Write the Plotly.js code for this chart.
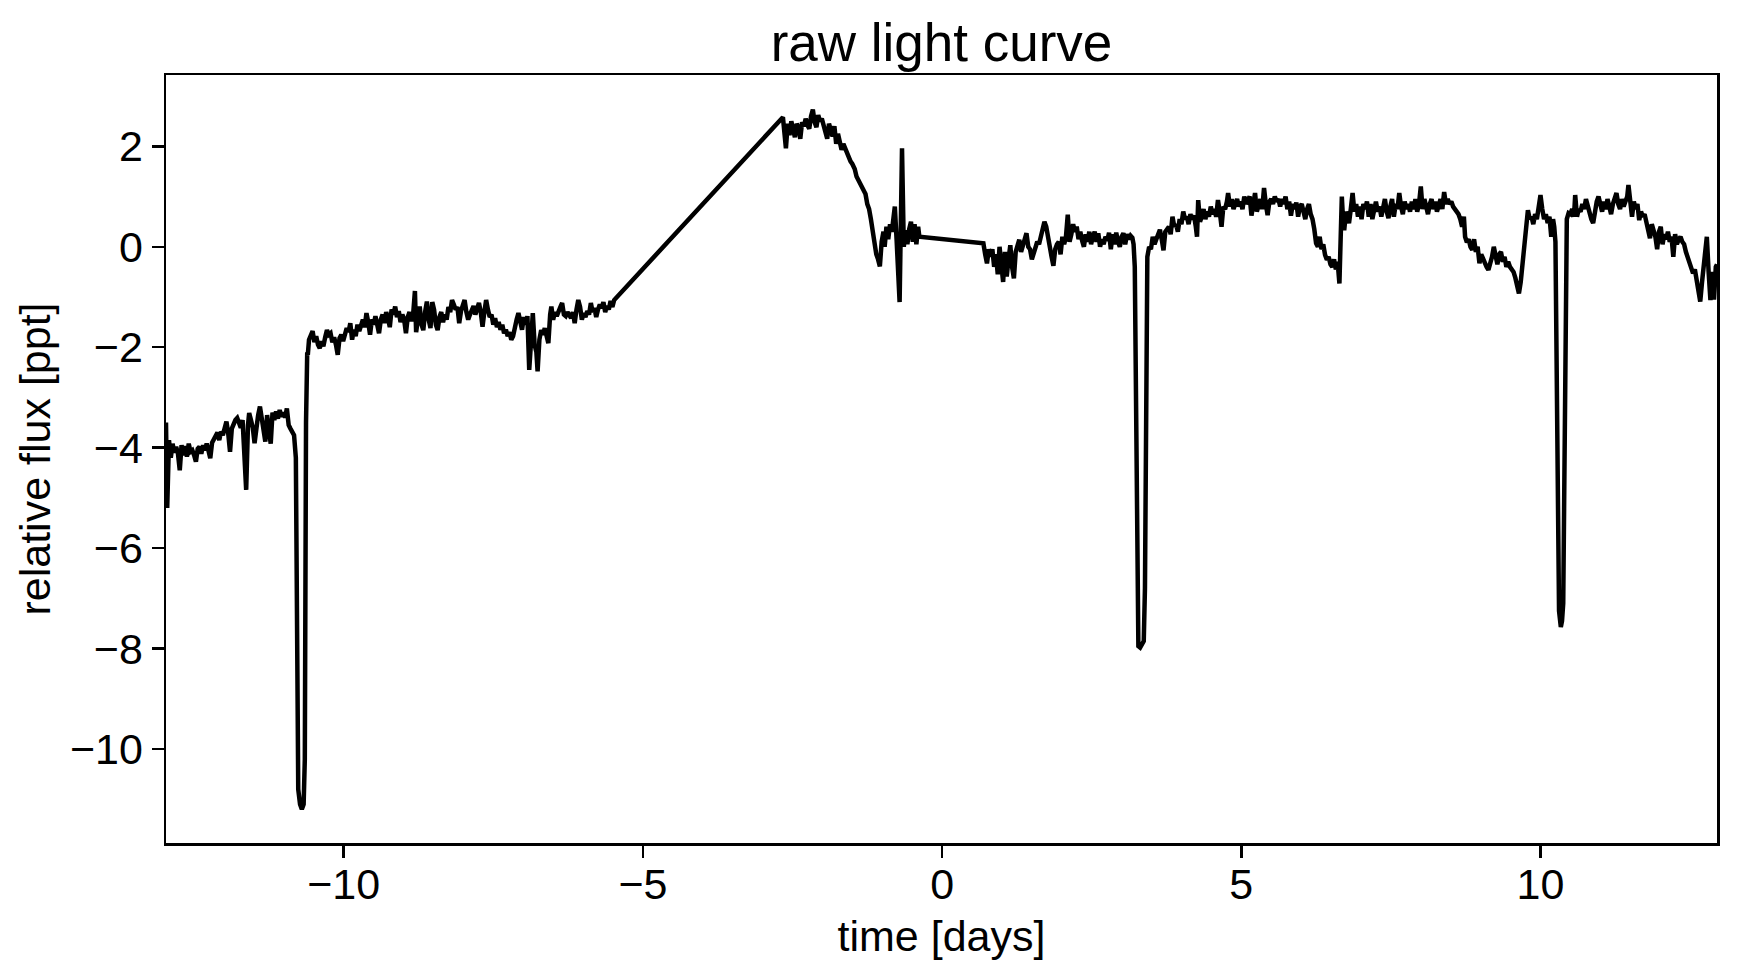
<!DOCTYPE html>
<html>
<head>
<meta charset="utf-8">
<script src="https://cdn.plot.ly/plotly-3.0.1.min.js"></script>
<style>html,body{margin:0;padding:0;background:#fff;}#chart{width:1740px;height:978px;}</style>
</head>
<body>
<div id="chart"></div>
<script>
// [time (days), relative flux (ppt)], in time order
const segBeforeGap1 = [
[-12.97,-3.50],[-12.95,-5.20],[-12.92,-3.85],[-12.89,-4.20],[-12.86,-3.92],[-12.83,-4.10],[-12.80,-3.98],[-12.77,-4.12],
[-12.74,-4.45],[-12.71,-3.95],[-12.68,-4.15],[-12.65,-3.97],[-12.62,-4.18],[-12.59,-3.92],[-12.56,-4.08],[-12.53,-4.05],
[-12.50,-4.15],[-12.47,-4.28],[-12.44,-4.02],[-12.41,-3.98],[-12.38,-4.12],[-12.35,-3.95],[-12.32,-4.05],[-12.29,-3.92],
[-12.26,-4.06],[-12.23,-4.21],[-12.20,-3.90],[-12.17,-3.82],[-12.14,-3.78],[-12.11,-3.70],[-12.08,-3.85],[-12.05,-3.68],
[-12.02,-3.75],[-11.99,-3.62],[-11.96,-3.48],[-11.93,-3.72],[-11.90,-4.08],[-11.87,-3.62],[-11.84,-3.50],[-11.81,-3.45],
[-11.78,-3.41],[-11.75,-3.52],[-11.72,-3.60],[-11.69,-3.45],[-11.66,-4.20],[-11.63,-4.84],[-11.60,-3.55],[-11.58,-3.31],
[-11.55,-3.45],[-11.52,-3.60],[-11.49,-3.91],[-11.46,-3.55],[-11.43,-3.35],[-11.40,-3.18],[-11.37,-3.40],[-11.34,-3.62],
[-11.31,-3.88],[-11.28,-3.35],[-11.25,-3.62],[-11.22,-3.92],[-11.19,-3.30],[-11.16,-3.45],[-11.13,-3.28],[-11.10,-3.42],
[-11.07,-3.25],[-11.04,-3.38],[-11.01,-3.30],[-10.98,-3.40],[-10.95,-3.22],[-10.92,-3.55],[-10.89,-3.62],[-10.86,-3.68],
[-10.83,-3.75],[-10.80,-4.20],[-10.78,-8.50],[-10.76,-10.80],[-10.73,-11.10],[-10.70,-11.20],[-10.67,-11.10],[-10.65,-10.20],
[-10.63,-3.50],[-10.61,-2.10],
[-10.60,-2.15],[-10.58,-1.85],[-10.55,-1.75],[-10.52,-1.68],[-10.49,-1.90],[-10.46,-1.78],[-10.43,-1.95],[-10.40,-2.02],
[-10.37,-1.88],[-10.34,-1.98],[-10.31,-1.80],[-10.28,-1.66],[-10.25,-1.75],[-10.22,-1.72],[-10.19,-1.90],[-10.16,-1.80],
[-10.13,-1.95],[-10.10,-2.15],[-10.07,-1.82],[-10.04,-1.75],[-10.01,-1.88],[-9.98,-1.70],[-9.95,-1.62],[-9.92,-1.70],
[-9.89,-1.52],[-9.86,-1.85],[-9.83,-1.65],[-9.80,-1.78],[-9.77,-1.55],[-9.74,-1.68],[-9.71,-1.52],[-9.68,-1.45],
[-9.65,-1.60],[-9.62,-1.32],[-9.59,-1.50],[-9.56,-1.75],[-9.53,-1.45],[-9.50,-1.55],[-9.47,-1.38],[-9.44,-1.60],
[-9.41,-1.72],[-9.38,-1.45],[-9.35,-1.35],[-9.32,-1.52],[-9.29,-1.30],[-9.26,-1.42],[-9.23,-1.60],[-9.20,-1.25],
[-9.17,-1.35],[-9.14,-1.19],[-9.11,-1.40],[-9.08,-1.28],[-9.05,-1.50],[-9.02,-1.35],[-8.99,-1.45],[-8.96,-1.72],
[-8.93,-1.40],[-8.90,-1.30],[-8.87,-1.48],[-8.84,-1.35],[-8.81,-0.88],[-8.79,-1.70],[-8.76,-1.35],[-8.73,-1.19],
[-8.70,-1.55],[-8.67,-1.66],[-8.64,-1.30],[-8.61,-1.09],[-8.58,-1.45],[-8.55,-1.62],[-8.52,-1.10],[-8.49,-1.25],
[-8.46,-1.55],[-8.43,-1.66],[-8.40,-1.40],[-8.37,-1.30],[-8.34,-1.50],[-8.31,-1.35],[-8.28,-1.45],[-8.25,-1.20],
[-8.22,-1.30],[-8.19,-1.06],[-8.16,-1.15],[-8.13,-1.25],[-8.10,-1.20],[-8.07,-1.52],[-8.04,-1.28],[-8.01,-1.15],
[-7.98,-1.06],[-7.95,-1.30],[-7.92,-1.45],[-7.89,-1.35],[-7.86,-1.25],[-7.83,-1.18],[-7.80,-1.35],[-7.77,-1.25],
[-7.74,-1.12],[-7.71,-1.30],[-7.68,-1.59],[-7.65,-1.30],[-7.62,-1.06],[-7.59,-1.25],[-7.56,-1.40],[-7.53,-1.35],
[-7.50,-1.55],[-7.47,-1.42],[-7.44,-1.60],[-7.41,-1.50],[-7.38,-1.65],[-7.35,-1.55],[-7.32,-1.72],[-7.29,-1.65],
[-7.26,-1.78],[-7.23,-1.70],[-7.20,-1.85],[-7.17,-1.78],[-7.14,-1.55],[-7.11,-1.45],[-7.08,-1.32],[-7.05,-1.55],
[-7.02,-1.65],[-6.99,-1.40],[-6.96,-1.55],[-6.93,-1.38],[-6.90,-2.45],[-6.87,-1.90],[-6.84,-1.32],[-6.81,-1.95],
[-6.78,-2.10],[-6.76,-2.48],[-6.73,-1.85],[-6.70,-1.66],[-6.67,-1.75],[-6.64,-1.62],[-6.61,-1.80],[-6.58,-1.92],
[-6.55,-1.35],[-6.53,-1.19],[-6.50,-1.45],[-6.47,-1.30],[-6.44,-1.38],[-6.41,-1.25],[-6.38,-1.20],[-6.35,-1.12],
[-6.32,-1.35],[-6.29,-1.38],[-6.26,-1.30],[-6.23,-1.36],[-6.20,-1.42],[-6.17,-1.30],[-6.14,-1.52],[-6.11,-1.25],
[-6.08,-1.06],[-6.05,-1.20],[-6.02,-1.45],[-5.99,-1.32],[-5.96,-1.40],[-5.93,-1.28],[-5.90,-1.35],[-5.87,-1.12],
[-5.84,-1.30],[-5.81,-1.22],[-5.78,-1.40],[-5.75,-1.25],[-5.72,-1.15],[-5.69,-1.22],[-5.66,-1.10],[-5.63,-1.30],
[-5.60,-1.18],[-5.57,-1.25],[-5.54,-1.08],[-5.51,-1.20],[-5.48,-1.06]
];

const segBetweenGaps = [
[-2.66,2.58],[-2.63,2.30],[-2.61,1.96],[-2.58,2.45],[-2.55,2.22],[-2.52,2.50],[-2.49,2.35],[-2.46,2.18],
[-2.43,2.45],[-2.40,2.38],[-2.37,2.15],[-2.34,2.48],[-2.31,2.40],[-2.28,2.55],[-2.25,2.42],[-2.22,2.35],
[-2.19,2.60],[-2.16,2.73],[-2.13,2.48],[-2.10,2.38],[-2.07,2.62],[-2.04,2.50],[-2.01,2.55],[-1.98,2.40],
[-1.95,2.32],[-1.92,2.15],[-1.89,2.45],[-1.86,2.30],[-1.83,2.20],[-1.80,2.40],[-1.77,2.05],[-1.74,2.25],
[-1.71,2.10],[-1.68,1.93],[-1.65,2.05],[-1.62,1.95],[-1.59,1.85],[-1.56,1.80],[-1.53,1.70],[-1.50,1.65],
[-1.46,1.55],[-1.43,1.40],[-1.40,1.33],[-1.37,1.25],[-1.34,1.20],[-1.31,1.10],[-1.28,1.05],[-1.25,0.85],
[-1.22,0.75],[-1.19,0.55],[-1.16,0.30],[-1.13,0.10],[-1.10,-0.15],[-1.07,-0.25],[-1.04,-0.39],[-1.01,0.10],
[-0.98,0.30],[-0.96,0.00],[-0.93,0.40],[-0.90,0.15],[-0.87,0.45],[-0.84,0.30],[-0.81,0.55],[-0.79,0.80],
[-0.76,0.13],[-0.71,-1.10],[-0.67,1.96],[-0.64,0.00],[-0.61,0.33],[-0.58,0.05],[-0.55,0.35],[-0.52,0.50],
[-0.49,0.10],[-0.46,0.45],[-0.43,0.05],[-0.40,0.40],[-0.38,0.20]
];

const segAfterGap2 = [
[0.69,0.07],[0.72,-0.15],[0.75,-0.33],[0.78,-0.05],[0.81,-0.20],[0.84,-0.05],[0.87,-0.40],[0.90,-0.15],
[0.93,-0.55],[0.96,0.00],[0.99,-0.30],[1.02,-0.70],[1.05,-0.10],[1.08,-0.59],[1.11,-0.25],[1.14,0.03],
[1.17,-0.40],[1.20,-0.63],[1.23,-0.10],[1.26,0.00],[1.29,0.14],[1.32,-0.10],[1.35,0.05],[1.38,0.20],
[1.41,0.27],[1.44,0.00],[1.47,-0.05],[1.50,-0.25],[1.53,-0.15],[1.56,-0.05],[1.59,0.10],[1.62,0.05],
[1.65,0.20],[1.68,0.35],[1.71,0.50],[1.74,0.40],[1.77,0.15],[1.80,-0.05],[1.83,-0.20],[1.86,-0.38],
[1.89,-0.05],[1.92,0.05],[1.95,0.10],[1.98,-0.15],[2.01,0.20],[2.04,0.05],[2.07,0.20],[2.10,0.64],
[2.13,0.10],[2.16,0.25],[2.19,0.45],[2.22,0.30],[2.25,0.40],[2.28,0.15],[2.31,0.30],[2.34,0.12],
[2.37,0.00],[2.40,0.25],[2.43,0.10],[2.46,0.30],[2.49,0.05],[2.52,0.20],[2.55,0.30],[2.58,0.10],
[2.61,0.27],[2.64,0.00],[2.67,0.15],[2.70,0.05],[2.73,0.20],[2.76,0.12],[2.79,0.28],[2.82,-0.05],
[2.85,0.25],[2.88,0.05],[2.91,0.28],[2.94,0.10],[2.97,0.00],[3.00,0.20],[3.03,0.27],[3.06,0.05],
[3.09,0.25],[3.12,0.15],[3.15,0.22],[3.18,0.18],[3.20,0.05],[3.22,-0.40],[3.24,-3.50],[3.26,-7.20],
[3.28,-7.95],[3.31,-7.98],[3.34,-7.90],[3.37,-7.85],[3.39,-6.80],[3.41,-2.50],[3.43,-0.20],[3.46,0.00],
[3.49,-0.05],[3.52,0.20],[3.55,0.05],[3.58,0.15],[3.61,0.25],[3.64,0.34],[3.67,0.15],[3.70,-0.07],
[3.73,0.30],[3.76,0.35],[3.79,0.40],[3.82,0.25],[3.85,0.60],[3.88,0.40],[3.91,0.45],[3.94,0.30],
[3.97,0.55],[4.00,0.45],[4.03,0.70],[4.06,0.55],[4.09,0.60],[4.12,0.45],[4.15,0.65],[4.18,0.55],
[4.21,0.62],[4.24,0.40],[4.26,0.20],[4.28,0.93],[4.31,0.50],[4.34,0.60],[4.37,0.75],[4.40,0.55],
[4.43,0.70],[4.46,0.60],[4.49,0.80],[4.52,0.65],[4.55,0.75],[4.58,0.60],[4.61,0.93],[4.64,0.70],
[4.67,0.40],[4.70,0.80],[4.73,0.75],[4.76,0.90],[4.78,1.07],[4.81,0.80],[4.84,0.95],[4.87,0.75],
[4.90,0.85],[4.93,0.95],[4.96,0.80],[4.99,0.90],[5.02,0.75],[5.05,1.00],[5.08,0.85],[5.11,0.95],
[5.14,1.00],[5.17,0.62],[5.20,0.90],[5.23,1.07],[5.26,0.70],[5.29,0.85],[5.32,0.95],[5.35,0.75],
[5.38,1.17],[5.41,0.85],[5.44,0.63],[5.47,0.90],[5.50,0.95],[5.53,0.85],[5.56,1.00],[5.59,0.90],
[5.62,0.95],[5.65,0.80],[5.68,0.95],[5.71,0.85],[5.74,1.00],[5.77,0.75],[5.80,0.90],[5.83,0.62],
[5.86,0.85],[5.89,0.75],[5.92,0.88],[5.95,0.60],[5.98,0.80],[6.01,0.85],[6.04,0.70],[6.07,0.55],
[6.10,0.75],[6.13,0.85],[6.16,0.65],[6.19,0.55],[6.22,0.35],[6.25,0.07],[6.28,0.00],[6.31,0.20],
[6.34,-0.05],[6.37,0.05],[6.40,-0.16],[6.43,-0.26],[6.46,-0.20],[6.49,-0.35],[6.52,-0.40],[6.55,-0.25],
[6.58,-0.45],[6.61,-0.30],[6.64,-0.73],[6.66,0.20],[6.68,1.00],[6.70,0.55],[6.72,0.33],[6.75,0.70],
[6.78,0.55],[6.80,0.47],[6.83,0.75],[6.86,1.07],[6.89,0.70],[6.92,0.85],[6.95,0.60],[6.98,0.80],
[7.01,0.55],[7.04,0.85],[7.07,0.75],[7.10,0.90],[7.13,0.60],[7.16,0.85],[7.19,0.55],[7.22,0.75],
[7.25,0.90],[7.28,0.70],[7.31,0.80],[7.34,0.60],[7.37,0.85],[7.40,0.95],[7.43,0.70],[7.46,0.57],
[7.49,0.80],[7.52,0.95],[7.55,0.60],[7.58,0.85],[7.61,0.75],[7.64,1.07],[7.67,0.80],[7.70,0.65],
[7.73,0.90],[7.76,0.75],[7.79,0.85],[7.82,0.70],[7.85,0.90],[7.88,0.75],[7.91,0.95],[7.94,0.70],
[7.97,0.85],[8.00,1.20],[8.03,0.75],[8.06,0.95],[8.09,0.80],[8.12,0.65],[8.15,0.85],[8.18,0.95],
[8.21,0.75],[8.24,0.90],[8.27,0.70],[8.30,0.85],[8.33,0.95],[8.36,0.75],[8.39,1.09],[8.42,0.85],
[8.45,0.95],[8.48,0.85],[8.51,0.90],[8.54,0.80],[8.57,0.75],[8.60,0.70],[8.63,0.65],[8.66,0.55],
[8.69,0.40],[8.72,0.60],[8.74,0.20],[8.77,0.09],[8.80,0.15],[8.83,0.00],[8.86,-0.06],[8.89,0.15],
[8.92,-0.10],[8.95,0.00],[8.98,-0.33],[9.01,-0.15],[9.04,-0.25],[9.07,-0.33],[9.10,-0.40],[9.13,-0.46],
[9.16,-0.35],[9.19,-0.20],[9.22,0.00],[9.25,-0.25],[9.28,-0.35],[9.31,-0.15],[9.34,-0.10],[9.37,-0.30],
[9.40,-0.20],[9.43,-0.40],[9.46,-0.30],[9.49,-0.40],[9.52,-0.45],[9.55,-0.50],[9.58,-0.62],[9.61,-0.80],
[9.64,-0.93],[9.67,-0.70],[9.70,-0.30],[9.73,0.00],[9.76,0.40],[9.79,0.73],[9.82,0.55],[9.85,0.60],
[9.88,0.45],[9.91,0.65],[9.94,0.55],[9.97,0.80],[10.00,1.03],[10.03,0.75],[10.06,0.55],[10.09,0.65],
[10.12,0.47],[10.15,0.60],[10.18,0.20],[10.21,0.55],[10.23,0.40],[10.25,0.10],[10.27,-2.50],[10.29,-6.50],
[10.31,-7.25],[10.34,-7.57],[10.36,-7.45],[10.38,-7.10],[10.40,-5.00],[10.42,-1.50],[10.44,0.55],[10.47,0.67],
[10.50,0.65],[10.53,0.75],[10.56,0.60],[10.58,1.03],[10.61,0.60],[10.64,0.75],[10.67,0.70],[10.70,0.85],
[10.73,0.75],[10.76,0.95],[10.79,0.80],[10.82,0.70],[10.85,0.55],[10.88,0.47],[10.91,0.75],[10.94,0.90],
[10.97,1.00],[11.00,0.80],[11.03,0.70],[11.06,0.90],[11.09,0.75],[11.12,0.95],[11.15,0.80],[11.18,0.65],
[11.21,0.85],[11.24,0.95],[11.27,1.07],[11.30,0.85],[11.33,0.75],[11.36,0.95],[11.39,0.80],[11.42,0.90],
[11.45,1.00],[11.47,1.23],[11.50,0.80],[11.53,0.60],[11.56,0.90],[11.59,0.75],[11.62,0.85],[11.65,0.53],
[11.68,0.70],[11.71,0.60],[11.74,0.65],[11.77,0.45],[11.80,0.35],[11.83,0.17],[11.86,0.45],[11.89,0.35],
[11.92,0.20],[11.95,-0.05],[11.98,0.30],[12.01,0.40],[12.04,0.05],[12.07,0.25],[12.10,0.15],[12.13,0.30],
[12.16,0.10],[12.19,0.20],[12.22,-0.20],[12.25,0.25],[12.28,0.05],[12.31,0.15],[12.34,0.20],[12.37,0.10],
[12.40,0.05],[12.43,-0.10],[12.46,-0.20],[12.49,-0.35],[12.52,-0.40],[12.55,-0.53],[12.58,-0.45],[12.61,-0.65],
[12.64,-0.80],[12.67,-1.09],[12.70,-0.70],[12.73,-0.40],[12.76,-0.10],[12.78,0.20],[12.81,-0.50],[12.84,-1.06],
[12.87,-0.50],[12.90,-1.05],[12.93,-0.40],[12.95,-0.35]
];

const xTicks = [-10, -5, 0, 5, 10];
const yTicks = [-10, -8, -6, -4, -2, 0, 2];

const allPts = segBeforeGap1.concat(segBetweenGaps, segAfterGap2);
const time = allPts.map(p => p[0]);
const flux = allPts.map(p => p[1]);

const FONT = 'Liberation Sans, Arial, Helvetica, sans-serif';

const trace = {
  x: time, y: flux, type: 'scatter', mode: 'lines',
  line: {color: '#000000', width: 4.5},
  hoverinfo: 'skip'
};

const axisCommon = {
  showgrid: false, zeroline: false, showline: true, mirror: true,
  linecolor: '#000', linewidth: 2.5,
  ticks: 'outside', ticklen: 12, tickwidth: 2.5, tickcolor: '#000',
  tickfont: {family: FONT, size: 43, color: '#000'},
  automargin: false
};

const layout = {
  width: 1740, height: 978,
  paper_bgcolor: '#fff', plot_bgcolor: '#fff',
  margin: {l: 166, r: 23, t: 75, b: 135},
  showlegend: false,
  font: {family: FONT, color: '#000'},
  title: {text: 'raw light curve', font: {family: FONT, size: 53, color: '#000'},
          xref: 'paper', x: 0.5, xanchor: 'center', yref: 'container', y: 1 - 42/978, yanchor: 'middle'},
  xaxis: Object.assign({}, axisCommon, {
    range: [-12.97, 12.95], tickmode: 'array', tickvals: xTicks,
    ticklabelstandoff: -10,
    title: {text: 'time [days]', font: {family: FONT, size: 43, color: '#000'}, standoff: 14}
  }),
  yaxis: Object.assign({}, axisCommon, {
    range: [-11.87, 3.42], tickmode: 'array', tickvals: yTicks,
    title: {text: 'relative flux [ppt]', font: {family: FONT, size: 43, color: '#000'}, standoff: 6}
  })
};

Plotly.newPlot('chart', [trace], layout, {displayModeBar: false, staticPlot: true});
</script>
</body>
</html>
